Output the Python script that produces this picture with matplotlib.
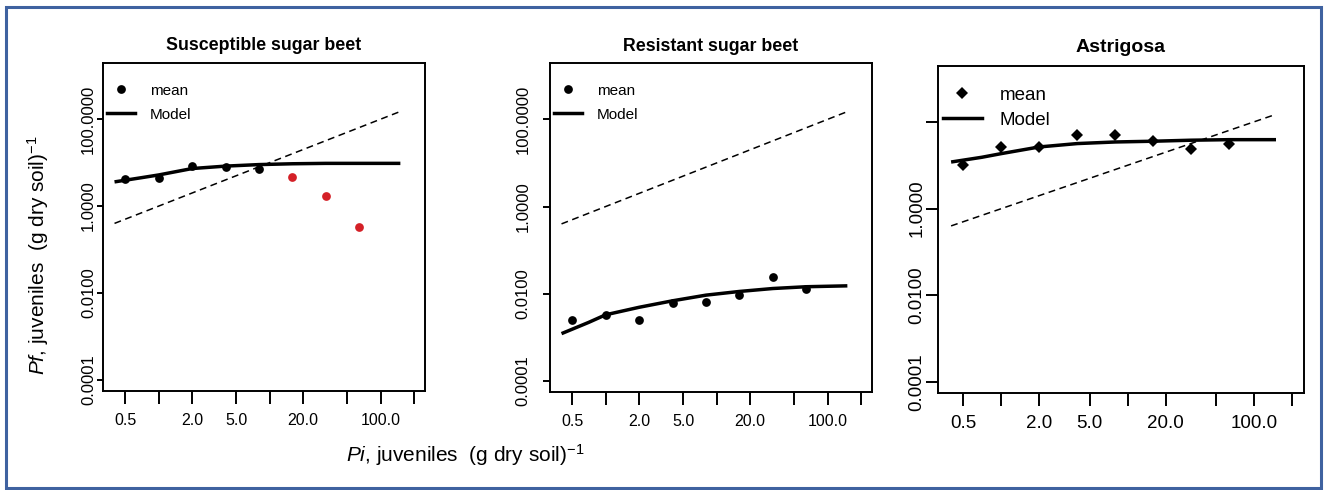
import numpy as np
import matplotlib
matplotlib.use('Agg')
import matplotlib.pyplot as plt
from matplotlib.lines import Line2D
from matplotlib.patches import Rectangle

plt.rcParams['font.family'] = ['Liberation Sans', 'DejaVu Sans']
plt.rcParams['mathtext.fontset'] = 'custom'
plt.rcParams['mathtext.rm'] = 'Liberation Sans'
plt.rcParams['mathtext.it'] = 'Liberation Sans:italic'

# observed means (Pi sampled at doubling densities)
pi_obs = [0.5, 1, 2, 4, 8, 16, 32, 64]
sus_mean = [4.3, 4.4, 8.4, 8.0, 7.1, 4.6, 1.7, 0.33]
sus_red = [False, False, False, False, False, True, True, True]
res_mean = [0.0025, 0.0033, 0.0025, 0.006, 0.0066, 0.0095, 0.0237, 0.0128]
ast_mean = [10.4, 26.5, 26.5, 49.5, 49.5, 35.9, 23.4, 30.5]

# model curves
pi_model = [0.4, 0.7, 1, 2, 4, 8, 16, 32, 64, 150]
sus_model = [3.6, 4.5, 5.2, 7.3, 8.3, 9.0, 9.4, 9.6, 9.6, 9.6]
res_model = [0.00122, 0.0022, 0.0033, 0.0049, 0.0069, 0.0093, 0.0113, 0.0132, 0.0145, 0.0152]
ast_model = [11.9, 15.3, 18.6, 26.5, 31.7, 34.5, 35.9, 37.9, 39.0, 39.0]

# Pf = Pi reference line
eq_line = [0.4, 150]

titles = ['Susceptible sugar beet', 'Resistant sugar beet', 'Astrigosa']
xticks = [0.5, 1, 2, 5, 10, 20, 50, 100, 200]
xticklabels = ['0.5', '', '2.0', '5.0', '', '20.0', '', '100.0', '']
yticks = [1e-4, 1e-2, 1, 100]
yticklabels = ['0.0001', '0.0100', '1.0000', '100.0000']

W, H = 1328, 490
fig = plt.figure(figsize=(W / 100, H / 100), dpi=100)
fig.patch.set_facecolor('white')

boxes = [(103, 425, 63, 391), (550, 872, 63, 392), (938, 1304, 66, 393)]
means = [sus_mean, res_mean, ast_mean]
models = [sus_model, res_model, ast_model]

for i in range(3):
    l, r, t, b = boxes[i]
    ax = fig.add_axes([l / W, 1 - b / H, (r - l) / W, (b - t) / H])
    ax.set_xscale('log')
    ax.set_yscale('log')
    big = (i == 2)
    fs_tick = 13.5 if big else 11.5
    fs_leg = 13.5 if big else 11

    ax.plot(eq_line, eq_line, color='k', lw=1.1, linestyle=(0, (4.5, 3)))
    ax.plot(pi_model, models[i], color='k', lw=2.5, solid_capstyle='butt')

    mk = 'D' if big else 'o'
    ms = 6.5 if big else 6.3
    if i == 0:
        for x, y, red in zip(pi_obs, means[i], sus_red):
            ax.plot(x, y, marker=mk, ms=ms, ls='none',
                    color='#d42027' if red else 'k', markeredgewidth=0)
    else:
        ax.plot(pi_obs, means[i], marker=mk, ms=ms, ls='none', color='k',
                markeredgewidth=0)

    ax.set_xlim(0.315, 250)
    ax.set_ylim(5.6e-5, 1950)
    ax.set_xticks(xticks)
    ax.set_xticklabels(xticklabels, fontsize=fs_tick)
    ax.xaxis.set_minor_locator(matplotlib.ticker.NullLocator())
    ax.yaxis.set_minor_locator(matplotlib.ticker.NullLocator())
    ax.set_yticks(yticks)
    ylabs = list(yticklabels)
    if big:
        ylabs[-1] = ''
    ax.set_yticklabels(ylabs, rotation=90, va='center', fontsize=13.5 if big else 12)
    ax.tick_params(axis='x', direction='out', length=9, width=1.4, pad=7, colors='k')
    if i == 0:
        ax.tick_params(axis='y', direction='out', length=4.5, width=1.4, pad=0.5, colors='k')
    elif i == 1:
        ax.tick_params(axis='y', direction='out', length=5, width=1.4, pad=9, colors='k')
    else:
        ax.tick_params(axis='y', direction='out', length=8.5, width=1.4, pad=0.5, colors='k')
    for sp in ax.spines.values():
        sp.set_linewidth(1.4)

    ax.set_title(titles[i], fontweight='bold', fontsize=14 if big else 12.8,
                 pad=10 if big else 9)

    handles = [Line2D([], [], marker=mk, ls='none', color='k', ms=ms, markeredgewidth=0),
               Line2D([], [], color='k', lw=2.5)]
    ax.legend(handles, ['mean', 'Model'], loc='upper left',
              bbox_to_anchor=(0.013, 0.937), frameon=False, borderaxespad=0,
              borderpad=0, handlelength=2.1 if big else 1.85, handletextpad=0.95,
              labelspacing=0.42 if big else 0.66, fontsize=fs_leg)

fig.text(465 / W, 1 - 455 / H, r'$\mathit{Pi}$, juveniles  (g dry soil)$^{-1}$',
         ha='center', va='center', fontsize=15)
fig.text(38 / W, 1 - 255 / H, r'$\mathit{Pf}$, juveniles  (g dry soil)$^{-1}$',
         ha='center', va='center', rotation=90, fontsize=15)

# blue frame round the whole figure
fig.patches.append(Rectangle((6 / W, 2 / H), (1321 - 6) / W, (483 - 2) / H,
                             transform=fig.transFigure, fill=False,
                             edgecolor='#3f62a0', lw=2.2))

fig.savefig('out.png', dpi=100, facecolor='white')
